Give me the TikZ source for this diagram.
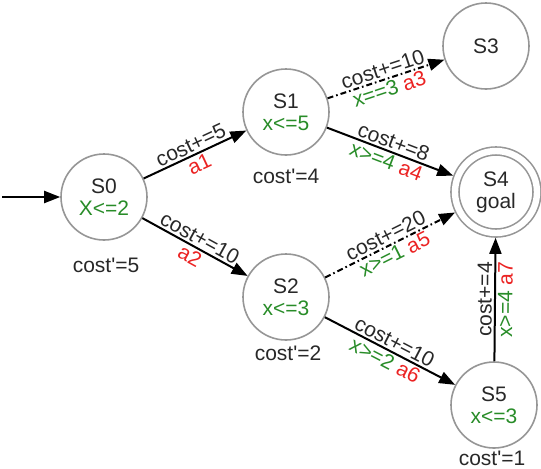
\documentclass[tikz,border=0pt]{standalone}
\usepackage{fontspec}
\setmainfont{Liberation Sans}
\usepackage{xcolor}
\usetikzlibrary{arrows.meta}
\definecolor{grn}{RGB}{40,140,40}
\definecolor{rd}{RGB}{235,35,35}
\definecolor{ring}{RGB}{150,150,150}
\definecolor{ink}{RGB}{40,40,40}
\tikzstyle{state}=[circle, draw=ring, line width=0.8pt, minimum size=43pt, inner sep=0pt, align=center, text=ink, font=\fontsize{10.5}{11}\selectfont]
\tikzstyle{goalstate}=[state, minimum size=41pt, double=white, double distance=3.2pt, outer sep=2.4pt]
\tikzstyle{trans}=[-{Triangle[length=8pt,width=6pt]}, line width=1pt, draw=black]
\tikzstyle{transdash}=[trans, dash pattern=on 3pt off 1.5pt on 0.8pt off 1.5pt]
\tikzstyle{lbl}=[sloped, inner sep=1pt, text=ink, font=\fontsize{10.5}{11}\selectfont]
\tikzstyle{note}=[inner sep=0pt, text=ink, font=\fontsize{10.5}{11}\selectfont]

\begin{document}
\begin{tikzpicture}[x=0.5pt, y=-0.5pt]
	\useasboundingbox (0,0) rectangle (541,468);
	% states
	\node [state] (S0) at (104,197) {S0\\\textcolor{grn}{X<=2}};
	\node [state] (S1) at (286,112) {S1\\\textcolor{grn}{x<=5}};
	\node [state] (S2) at (286,297) {S2\\\textcolor{grn}{x<=3}};
	\node [state] (S3) at (486,46) {S3};
	\node [goalstate] (S4) at (496,192) {S4\\goal};
	\node [state] (S5) at (494,405) {S5\\\textcolor{grn}{x<=3}};
	% costs
	\node [note] (c0) at (106,265) {cost\textquotesingle=5};
	\node [note] (c1) at (286,176) {cost\textquotesingle=4};
	\node [note] (c2) at (288,353) {cost\textquotesingle=2};
	\node [note] (c5) at (492,458) {cost\textquotesingle=1};
	\coordinate (init) at (2,197);
	% transitions
	\draw [trans] (init) to (S0);
	\draw [trans] (S0) to node [lbl, above] {cost+=5} node [lbl, below, text=rd] {a1} (S1);
	\draw [trans] (S0) to node [lbl, above] {cost+=10} node [lbl, below, text=rd] {a2} (S2);
	\draw [transdash] (S1) to node [lbl, above] {cost+=10} node [lbl, below] {\textcolor{grn}{x==3} \textcolor{rd}{a3}} (S3);
	\draw [trans] (S1) to node [lbl, above] {cost+=8} node [lbl, below] {\textcolor{grn}{x>=4} \textcolor{rd}{a4}} (S4);
	\draw [transdash] (S2) to node [lbl, above] {cost+=20} node [lbl, below] {\textcolor{grn}{x>=1} \textcolor{rd}{a5}} (S4);
	\draw [trans] (S2) to node [lbl, above] {cost+=10} node [lbl, below] {\textcolor{grn}{x>=2} \textcolor{rd}{a6}} (S5);
	\draw [trans] (S5) to node [lbl, above] {cost+=4} node [lbl, below] {\textcolor{grn}{x>=4} \textcolor{rd}{a7}} (S4);
\end{tikzpicture}
\end{document}
